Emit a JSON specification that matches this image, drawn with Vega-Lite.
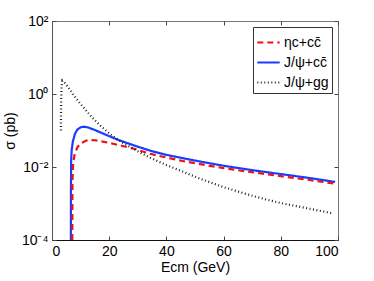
{
  "$schema": "https://vega.github.io/schema/vega-lite/v6.json",
  "width": 286,
  "height": 219,
  "autosize": {"type": "none"},
  "padding": {"left": 52, "top": 21, "right": 36, "bottom": 41},
  "background": "white",
  "config": {
    "font": "Liberation Sans",
    "view": {"stroke": "#777", "strokeWidth": 1},
    "axis": {"grid": false, "labelFont": "Liberation Sans", "titleFont": "Liberation Sans", "labelFontSize": 14, "titleFontSize": 14, "titleFontWeight": "normal", "labelColor": "black", "titleColor": "black", "tickColor": "#444", "domainColor": "#555"},
    "legend": {"labelFont": "Liberation Sans", "labelFontSize": 14}
  },
  "data": {"values": [
    {"s": "J/ψ+cc̄", "E": 6.6, "sigma": 0.0001},
    {"s": "J/ψ+cc̄", "E": 6.62, "sigma": 0.002},
    {"s": "J/ψ+cc̄", "E": 6.7, "sigma": 0.015},
    {"s": "J/ψ+cc̄", "E": 6.9, "sigma": 0.03},
    {"s": "J/ψ+cc̄", "E": 7.3, "sigma": 0.05},
    {"s": "J/ψ+cc̄", "E": 8, "sigma": 0.08},
    {"s": "J/ψ+cc̄", "E": 8.8, "sigma": 0.105},
    {"s": "J/ψ+cc̄", "E": 10, "sigma": 0.122},
    {"s": "J/ψ+cc̄", "E": 11, "sigma": 0.127},
    {"s": "J/ψ+cc̄", "E": 12.5, "sigma": 0.122},
    {"s": "J/ψ+cc̄", "E": 15, "sigma": 0.103},
    {"s": "J/ψ+cc̄", "E": 17, "sigma": 0.088},
    {"s": "J/ψ+cc̄", "E": 20, "sigma": 0.07},
    {"s": "J/ψ+cc̄", "E": 23.2, "sigma": 0.055},
    {"s": "J/ψ+cc̄", "E": 30, "sigma": 0.036},
    {"s": "J/ψ+cc̄", "E": 35, "sigma": 0.027},
    {"s": "J/ψ+cc̄", "E": 40, "sigma": 0.0215},
    {"s": "J/ψ+cc̄", "E": 46.5, "sigma": 0.017},
    {"s": "J/ψ+cc̄", "E": 50, "sigma": 0.015},
    {"s": "J/ψ+cc̄", "E": 60, "sigma": 0.0108},
    {"s": "J/ψ+cc̄", "E": 70, "sigma": 0.0082},
    {"s": "J/ψ+cc̄", "E": 80, "sigma": 0.0064},
    {"s": "J/ψ+cc̄", "E": 90, "sigma": 0.005},
    {"s": "J/ψ+cc̄", "E": 99, "sigma": 0.0039},
    {"s": "ηc+cc̄", "E": 7.1, "sigma": 0.0001},
    {"s": "ηc+cc̄", "E": 7.15, "sigma": 0.004},
    {"s": "ηc+cc̄", "E": 7.4, "sigma": 0.013},
    {"s": "ηc+cc̄", "E": 8, "sigma": 0.024},
    {"s": "ηc+cc̄", "E": 9, "sigma": 0.036},
    {"s": "ηc+cc̄", "E": 10.4, "sigma": 0.046},
    {"s": "ηc+cc̄", "E": 12, "sigma": 0.053},
    {"s": "ηc+cc̄", "E": 13.5, "sigma": 0.055},
    {"s": "ηc+cc̄", "E": 15, "sigma": 0.054},
    {"s": "ηc+cc̄", "E": 17, "sigma": 0.051},
    {"s": "ηc+cc̄", "E": 21, "sigma": 0.044},
    {"s": "ηc+cc̄", "E": 25, "sigma": 0.037},
    {"s": "ηc+cc̄", "E": 28.4, "sigma": 0.032},
    {"s": "ηc+cc̄", "E": 34.3, "sigma": 0.023},
    {"s": "ηc+cc̄", "E": 40, "sigma": 0.0182},
    {"s": "ηc+cc̄", "E": 45.9, "sigma": 0.0145},
    {"s": "ηc+cc̄", "E": 50, "sigma": 0.0127},
    {"s": "ηc+cc̄", "E": 60, "sigma": 0.0093},
    {"s": "ηc+cc̄", "E": 70, "sigma": 0.0072},
    {"s": "ηc+cc̄", "E": 80, "sigma": 0.0056},
    {"s": "ηc+cc̄", "E": 90, "sigma": 0.0044},
    {"s": "ηc+cc̄", "E": 99, "sigma": 0.0035},
    {"s": "J/ψ+gg", "E": 3.1, "sigma": 0.1},
    {"s": "J/ψ+gg", "E": 3.2, "sigma": 0.6},
    {"s": "J/ψ+gg", "E": 3.35, "sigma": 1.6},
    {"s": "J/ψ+gg", "E": 3.6, "sigma": 2.3},
    {"s": "J/ψ+gg", "E": 4.5, "sigma": 2.0},
    {"s": "J/ψ+gg", "E": 6, "sigma": 1.4},
    {"s": "J/ψ+gg", "E": 8, "sigma": 0.84},
    {"s": "J/ψ+gg", "E": 10, "sigma": 0.53},
    {"s": "J/ψ+gg", "E": 12.7, "sigma": 0.3},
    {"s": "J/ψ+gg", "E": 15, "sigma": 0.19},
    {"s": "J/ψ+gg", "E": 17.4, "sigma": 0.125},
    {"s": "J/ψ+gg", "E": 20, "sigma": 0.084},
    {"s": "J/ψ+gg", "E": 23.2, "sigma": 0.055},
    {"s": "J/ψ+gg", "E": 25, "sigma": 0.045},
    {"s": "J/ψ+gg", "E": 28.4, "sigma": 0.032},
    {"s": "J/ψ+gg", "E": 30, "sigma": 0.027},
    {"s": "J/ψ+gg", "E": 34.3, "sigma": 0.018},
    {"s": "J/ψ+gg", "E": 40, "sigma": 0.0113},
    {"s": "J/ψ+gg", "E": 43, "sigma": 0.0091},
    {"s": "J/ψ+gg", "E": 51.7, "sigma": 0.0048},
    {"s": "J/ψ+gg", "E": 60, "sigma": 0.0028},
    {"s": "J/ψ+gg", "E": 69.2, "sigma": 0.0017},
    {"s": "J/ψ+gg", "E": 75, "sigma": 0.00128},
    {"s": "J/ψ+gg", "E": 80, "sigma": 0.00103},
    {"s": "J/ψ+gg", "E": 90, "sigma": 0.00072},
    {"s": "J/ψ+gg", "E": 98, "sigma": 0.00054}
  ]},
  "encoding": {
    "color": {"field": "s", "type": "nominal", "scale": {"domain": ["ηc+cc̄", "J/ψ+cc̄", "J/ψ+gg"], "range": ["#ee1111", "#1a3cff", "#222222"]},
      "legend": {"title": null, "orient": "top-right", "offset": 6, "symbolType": "stroke", "symbolSize": 500, "rowPadding": 0, "padding": 3, "strokeColor": "#333", "fillColor": "white", "labelLimit": 200, "labelOffset": 3}},
    "strokeDash": {"field": "s", "type": "nominal", "scale": {"domain": ["ηc+cc̄", "J/ψ+cc̄", "J/ψ+gg"], "range": [[6, 4], [1, 0], [1, 2.5]]}, "legend": {"title": null}},
    "strokeWidth": {"field": "s", "type": "nominal", "scale": {"domain": ["ηc+cc̄", "J/ψ+cc̄", "J/ψ+gg"], "range": [2.2, 2.2, 1.3]}, "legend": {"title": null}},
    "detail": {"field": "s"},
    "order": {"field": "E", "type": "quantitative"}
  },
  "layer": [
    {
      "transform": [{"filter": "datum.s != 'J/ψ+gg'"}],
      "mark": {"type": "line", "clip": true},
      "encoding": {
        "x": {"field": "E", "type": "quantitative", "scale": {"domain": [0, 100], "nice": false},
          "axis": {"orient": "bottom", "values": [0, 20, 40, 60, 80, 100], "title": "Ecm (GeV)", "tickSize": -4, "labelPadding": 8, "titlePadding": 2, "domainColor": "#111"}},
        "y": {"field": "sigma", "type": "quantitative", "scale": {"type": "log", "domain": [0.0001, 100], "nice": false},
          "axis": {"orient": "left", "values": [0.0001, 0.01, 1, 100], "title": "σ (pb)", "tickSize": -4, "labelPadding": 8, "titlePadding": 4,
            "labelExpr": "datum.value >= 50 ? '10²' : datum.value >= 0.5 ? '10⁰' : datum.value >= 0.005 ? '10⁻²' : '10⁻⁴'"}}
      }
    },
    {
      "transform": [{"filter": "datum.s == 'J/ψ+gg'"}],
      "mark": {"type": "line", "clip": true},
      "encoding": {
        "x": {"field": "E", "type": "quantitative", "scale": {"domain": [0, 100], "nice": false},
          "axis": {"orient": "top", "values": [0, 20, 40, 60, 80, 100], "labels": false, "title": null, "tickSize": -4, "domain": false}},
        "y": {"field": "sigma", "type": "quantitative", "scale": {"type": "log", "domain": [0.0001, 100], "nice": false},
          "axis": {"orient": "right", "values": [0.0001, 0.01, 1, 100], "labels": false, "title": null, "tickSize": -4, "domain": false}}
      }
    }
  ],
  "resolve": {"axis": {"x": "independent", "y": "independent"}}
}
